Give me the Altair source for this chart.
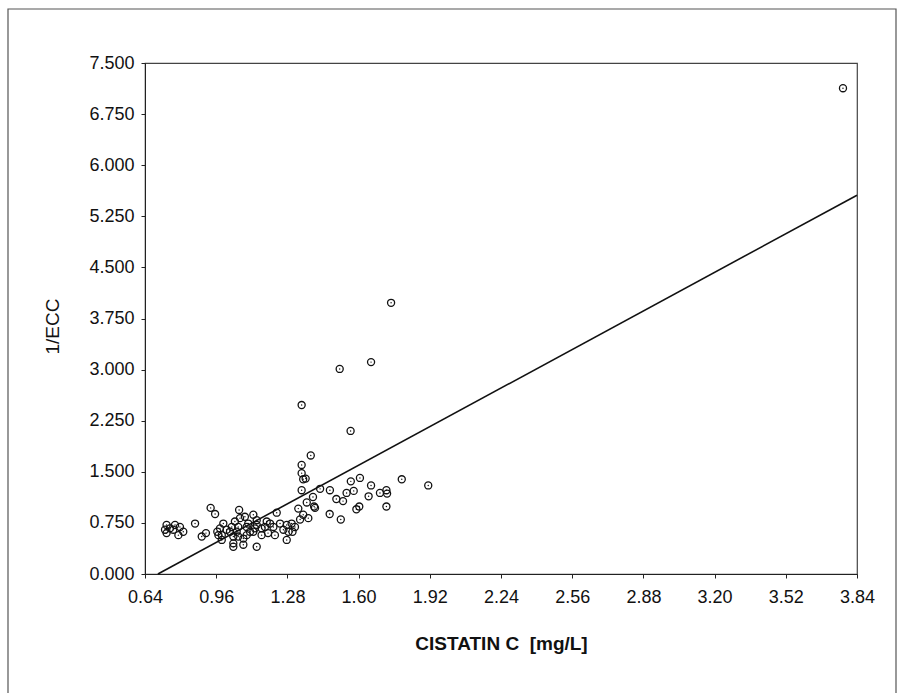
import altair as alt
import pandas as pd

# Scatter data: cystatin C [mg/L] vs 1/ECC
cys = [3.777, 1.746, 1.656, 1.515, 1.344, 1.564, 1.385, 1.344, 1.344, 1.351, 1.362,
       1.794, 1.913, 1.606, 1.565, 1.656, 1.578, 1.546, 1.471, 1.427, 1.696, 1.725,
       1.728, 1.645, 1.500, 1.530, 1.395, 1.400, 1.603, 1.725, 1.344, 1.367, 1.329,
       1.404, 1.351, 1.374, 1.337, 1.47, 1.52, 1.59,
       1.314, 1.299, 1.277, 1.285, 1.303, 1.277, 1.232, 1.247, 1.262, 1.217, 1.224,
       1.202, 1.179, 1.187, 1.193, 1.164, 1.164, 1.142, 1.142, 1.134, 1.127, 1.142,
       1.127, 1.104, 1.097, 1.112, 1.097, 1.082, 1.089, 1.067, 1.059, 1.052, 1.059,
       1.082, 1.063, 1.044, 1.030, 1.037, 1.022, 1.037, 1.037, 1.007, 0.992, 0.985,
       0.977, 0.970, 0.965, 0.985, 0.955, 0.935, 0.914, 0.895, 0.865, 0.812, 0.797,
       0.790, 0.775, 0.767, 0.737, 0.730, 0.737, 0.752]
inv_ecc = [7.13, 3.98, 3.11, 3.01, 2.48, 2.10, 1.74, 1.60, 1.48, 1.39, 1.40,
           1.39, 1.30, 1.41, 1.36, 1.30, 1.22, 1.19, 1.23, 1.25, 1.19, 1.23,
           1.18, 1.14, 1.10, 1.07, 1.13, 0.99, 0.99, 0.99, 1.23, 1.05, 0.96,
           0.97, 0.87, 0.82, 0.80, 0.88, 0.80, 0.95,
           0.69, 0.74, 0.72, 0.62, 0.62, 0.50, 0.90, 0.74, 0.65, 0.69, 0.57,
           0.74, 0.69, 0.77, 0.60, 0.67, 0.57, 0.79, 0.72, 0.67, 0.62, 0.40,
           0.87, 0.74, 0.69, 0.62, 0.57, 0.52, 0.84, 0.82, 0.69, 0.62, 0.55,
           0.43, 0.94, 0.77, 0.69, 0.55, 0.62, 0.45, 0.40, 0.65, 0.74, 0.57,
           0.67, 0.57, 0.62, 0.50, 0.88, 0.97, 0.60, 0.55, 0.74, 0.62, 0.69,
           0.57, 0.72, 0.65, 0.72, 0.65, 0.60, 0.67]

# Regression line end points
line_x = [0.698, 3.84]
line_y = [0.0, 5.56]

x_ticks = [0.64, 0.96, 1.28, 1.60, 1.92, 2.24, 2.56, 2.88, 3.20, 3.52, 3.84]
y_ticks = [0.0, 0.75, 1.5, 2.25, 3.0, 3.75, 4.5, 5.25, 6.0, 6.75, 7.5]

pts = pd.DataFrame({"x": cys, "y": inv_ecc})
ln = pd.DataFrame({"x": line_x, "y": line_y})

FONT = "Liberation Sans"

xscale = alt.Scale(domain=[0.64, 3.84], nice=False, zero=False)
yscale = alt.Scale(domain=[0, 7.5], nice=False, zero=False)

xaxis = alt.Axis(values=x_ticks, format=".2f", grid=False, tickSize=4,
                 labelPadding=10, labelFontSize=18, labelFont=FONT,
                 labelColor="#111", domainColor="#222", tickColor="#222",
                 title="CISTATIN C\u00a0\u00a0[mg/L]", titleFont=FONT,
                 titleFontSize=19, titleFontWeight="bold", titleColor="#111",
                 titleX=356, titleY=69, titleBaseline="middle", titleAnchor="middle",
                 labelFlush=False, labelOverlap=False)
yaxis = alt.Axis(values=y_ticks, format=".3f", grid=False, tickSize=4,
                 labelPadding=7, labelFontSize=18, labelFont=FONT,
                 labelColor="#111", domainColor="#222", tickColor="#222",
                 title="1/ECC", titleFont=FONT, titleFontSize=19,
                 titleFontWeight="normal", titleColor="#111",
                 titleX=-93, titleY=263, titleBaseline="middle", titleAngle=270,
                 labelOverlap=False, labelFlush=False)

frame = alt.Chart(pd.DataFrame({"a": [0]})).mark_rect(
    fill=None, stroke="#555", strokeWidth=1.2
).encode(x=alt.value(-137), x2=alt.value(751), y=alt.value(-54), y2=alt.value(660))

points = alt.Chart(pts).mark_point(
    shape="circle", filled=False, color="#111", size=50, strokeWidth=1.3, opacity=1
).encode(x=alt.X("x:Q", scale=xscale, axis=xaxis),
         y=alt.Y("y:Q", scale=yscale, axis=yaxis))

dots = alt.Chart(pts).mark_circle(color="#111", size=2, opacity=1).encode(
    x=alt.X("x:Q", scale=xscale), y=alt.Y("y:Q", scale=yscale))

line = alt.Chart(ln).mark_line(color="#111", strokeWidth=1.6).encode(
    x=alt.X("x:Q", scale=xscale), y=alt.Y("y:Q", scale=yscale))

chart = alt.layer(frame, line, points, dots).properties(
    width=712, height=511,
    padding={"left": 145, "top": 63, "right": 48, "bottom": 119},
    autosize=alt.AutoSizeParams(type="none"),
    background="white",
).configure_view(stroke="#444", strokeWidth=1.2)

chart.save("out.html", embed_options={"renderer": "svg", "actions": False})
